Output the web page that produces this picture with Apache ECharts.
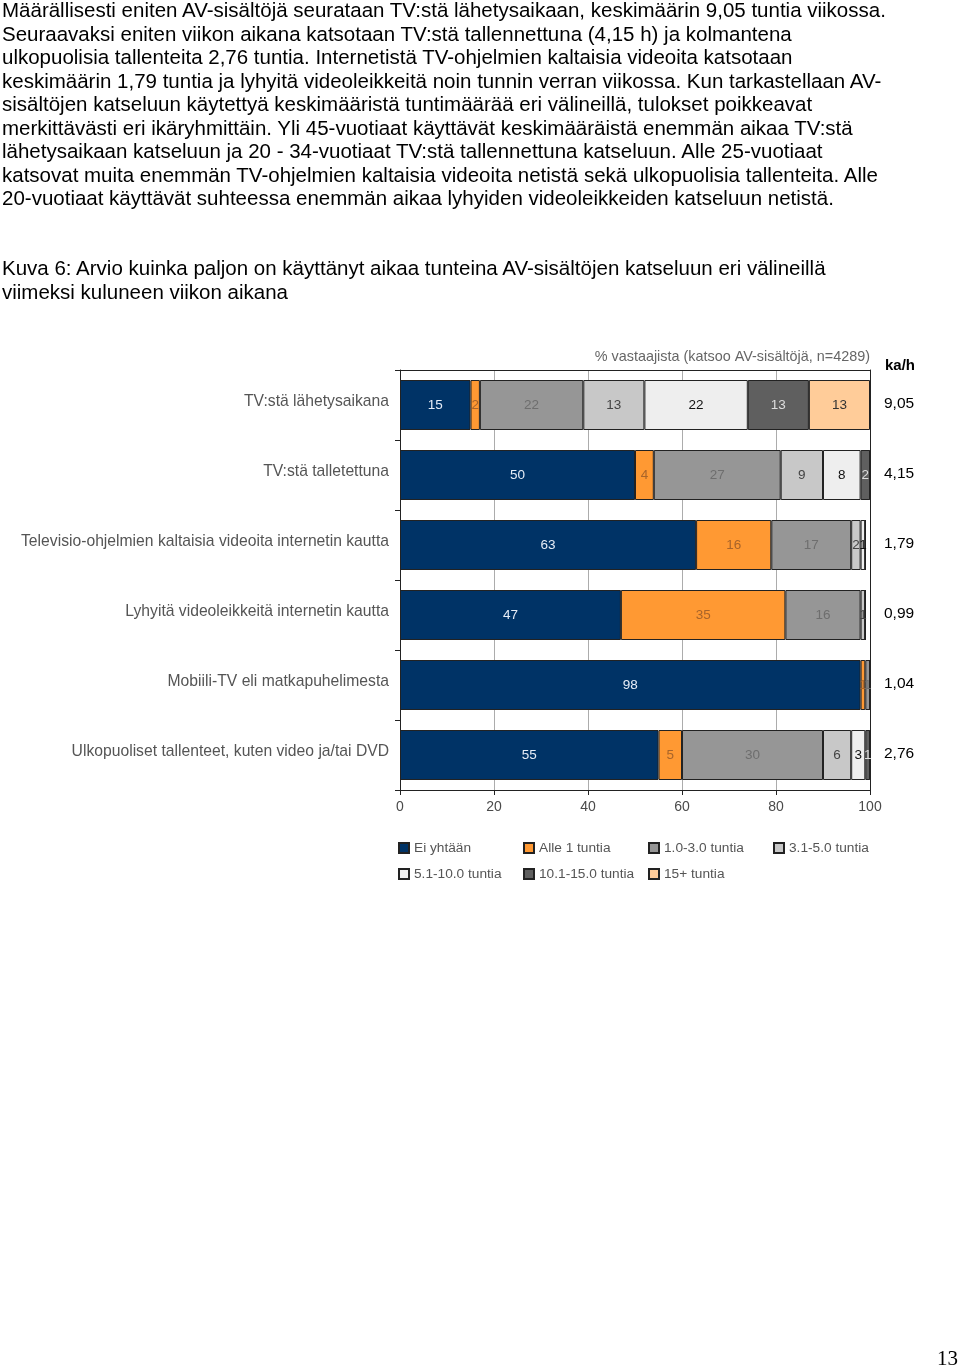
<!DOCTYPE html>
<html>
<head>
<meta charset="utf-8">
<script src="https://cdn.jsdelivr.net/npm/echarts@6/dist/echarts.min.js"></script>
<style>
  html, body { margin: 0; padding: 0; background: #fff; }
  #page { position: relative; width: 960px; height: 1367px; overflow: hidden; }
  #chart { position: absolute; left: 0; top: 0; width: 960px; height: 1367px; }
  .txt { position: absolute; left: 2px; font-family: "Liberation Sans", Arial, sans-serif; color: #000; white-space: pre; }
  #para { top: -2px; font-size: 20.5px; line-height: 23.5px; }
  #caption { top: 256px; font-size: 20.5px; line-height: 24px; }
  #pagenum { position: absolute; left: 937px; top: 1346px; font-family: "Liberation Serif", "Times New Roman", serif; font-size: 21px; color: #000; }
</style>
</head>
<body>
<div id="page">
  <div id="chart"></div>
  <div class="txt" id="para">Määrällisesti eniten AV-sisältöjä seurataan TV:stä lähetysaikaan, keskimäärin 9,05 tuntia viikossa.
Seuraavaksi eniten viikon aikana katsotaan TV:stä tallennettuna (4,15 h) ja kolmantena
ulkopuolisia tallenteita 2,76 tuntia. Internetistä TV-ohjelmien kaltaisia videoita katsotaan
keskimäärin 1,79 tuntia ja lyhyitä videoleikkeitä noin tunnin verran viikossa. Kun tarkastellaan AV-
sisältöjen katseluun käytettyä keskimääristä tuntimäärää eri välineillä, tulokset poikkeavat
merkittävästi eri ikäryhmittäin. Yli 45-vuotiaat käyttävät keskimääräistä enemmän aikaa TV:stä
lähetysaikaan katseluun ja 20 - 34-vuotiaat TV:stä tallennettuna katseluun. Alle 25-vuotiaat
katsovat muita enemmän TV-ohjelmien kaltaisia videoita netistä sekä ulkopuolisia tallenteita. Alle
20-vuotiaat käyttävät suhteessa enemmän aikaa lyhyiden videoleikkeiden katseluun netistä.</div>
  <div class="txt" id="caption">Kuva 6: Arvio kuinka paljon on käyttänyt aikaa tunteina AV-sisältöjen katseluun eri välineillä
viimeksi kuluneen viikon aikana</div>
  <div id="pagenum">13</div>
</div>
<script>
const categories = [
  'TV:stä lähetysaikana',
  'TV:stä talletettuna',
  'Televisio-ohjelmien kaltaisia videoita internetin kautta',
  'Lyhyitä videoleikkeitä internetin kautta',
  'Mobiili-TV eli matkapuhelimesta',
  'Ulkopuoliset tallenteet, kuten video ja/tai DVD'
];
const kahValues = ['9,05', '4,15', '1,79', '0,99', '1,04', '2,76'];
const seriesNames = ['Ei yhtään', 'Alle 1 tuntia', '1.0-3.0 tuntia', '3.1-5.0 tuntia', '5.1-10.0 tuntia', '10.1-15.0 tuntia', '15+ tuntia'];
const eiYhtaan   = [15, 50, 63, 47, 98, 55];
const alle1      = [2, 4, 16, 35, 1, 5];
const t1_3       = [22, 27, 17, 16, 1, 30];
const t3_5       = [13, 9, 2, 1, 0, 6];
const t5_10      = [22, 8, 1, 0, 0, 3];
const t10_15     = [13, 2, 0, 0, 0, 1];
const t15plus    = [13, 0, 0, 0, 0, 0];
const xTicks = [0, 20, 40, 60, 80, 100];

const seriesData = [eiYhtaan, alle1, t1_3, t3_5, t5_10, t10_15, t15plus];
const colors = ['#003366', '#FF9933', '#969696', '#C8C8C8', '#EEEEEE', '#5F5F5F', '#FFCC99'];
const labelColors = ['#e6edf7', '#a8642a', '#6e6e6e', '#444444', '#111111', '#dddddd', '#333333'];
const FONT = 'Liberation Sans, Arial, sans-serif';

const chart = echarts.init(document.getElementById('chart'), null, { renderer: 'canvas' });

const series = seriesNames.map((name, i) => ({
  name: name,
  type: 'bar',
  stack: 'total',
  xAxisIndex: 0,
  yAxisIndex: 0,
  barWidth: 50,
  data: seriesData[i],
  itemStyle: { color: colors[i], borderColor: '#222', borderWidth: 1 },
  label: {
    show: true,
    position: 'inside',
    color: labelColors[i],
    fontFamily: FONT,
    fontSize: 13.5,
    formatter: p => (p.value > 0 ? String(p.value) : '')
  },
  emphasis: { disabled: true },
  animation: false
}));

// one legend component per item, laid out in a 4-column grid
const legends = seriesNames.map((name, i) => ({
  left: 398 + (i % 4) * 125,
  top: 841 + Math.floor(i / 4) * 26,
  padding: 0,
  itemWidth: 10, itemHeight: 10, itemGap: 0,
  icon: 'rect',
  data: [name],
  selectedMode: false,
  textStyle: { fontSize: 13.7, color: '#555', fontFamily: FONT }
}));

const option = {
  animation: false,
  textStyle: { fontFamily: FONT },
  title: [
    {
      text: '% vastaajista (katsoo AV-sisältöjä, n=4289)',
      right: 90, top: 350, padding: 0,
      textStyle: { fontSize: 14.4, fontWeight: 'normal', color: '#666', fontFamily: FONT }
    },
    {
      text: 'ka/h',
      left: 885, top: 358, padding: 0,
      textStyle: { fontSize: 15, fontWeight: 'bold', color: '#000', fontFamily: FONT }
    }
  ],
  legend: legends,
  grid: { left: 400, right: 90, top: 370, height: 420, containLabel: false },
  xAxis: [
    {
      type: 'value', min: 0, max: 100, interval: 20,
      position: 'bottom',
      axisLine: { show: true, lineStyle: { color: '#222', width: 1 } },
      axisTick: { show: true, length: 5, lineStyle: { color: '#222' } },
      axisLabel: { color: '#4a4a4a', fontSize: 14, margin: 10, formatter: v => (xTicks.indexOf(v) >= 0 ? String(v) : '') },
      splitLine: { show: true, lineStyle: { color: '#acacac', width: 1 } }
    },
    {
      type: 'value', min: 0, max: 100, position: 'top',
      axisLine: { show: true, onZero: false, lineStyle: { color: '#222', width: 1 } },
      axisTick: { show: false }, axisLabel: { show: false }, splitLine: { show: false }
    }
  ],
  yAxis: [
    {
      type: 'category', data: categories, inverse: true, position: 'left',
      axisLine: { show: true, lineStyle: { color: '#222', width: 1 } },
      axisTick: { show: true, length: 5, lineStyle: { color: '#222' } },
      axisLabel: {
        color: '#555', fontSize: 15.7, margin: 11,
        formatter: v => '{a|' + v + '}',
        rich: { a: { color: '#555', fontSize: 15.7, fontFamily: FONT, padding: [0, 0, 7, 0] } }
      }
    },
    {
      type: 'category', data: kahValues, inverse: true, position: 'right',
      axisLine: { show: true, onZero: false, lineStyle: { color: '#222', width: 1 } },
      axisTick: { show: false },
      axisLabel: {
        color: '#000', fontSize: 15.5, margin: 14, align: 'left',
        formatter: v => '{a|' + v + '}',
        rich: { a: { color: '#000', fontSize: 15.5, fontFamily: FONT, padding: [0, 0, 3, 0] } }
      }
    }
  ],
  series: series
};
chart.setOption(option);
</script>
</body>
</html>
